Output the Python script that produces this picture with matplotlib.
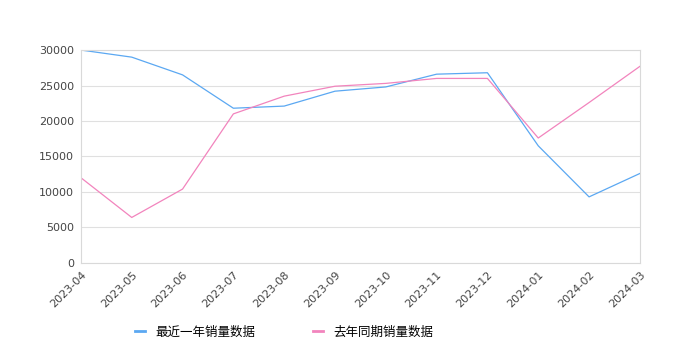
import matplotlib
matplotlib.use('Agg')
import matplotlib.pyplot as plt
from matplotlib.lines import Line2D

plt.rcParams['font.family'] = ['Noto Sans CJK SC', 'DejaVu Sans']

months = ['2023-04', '2023-05', '2023-06', '2023-07', '2023-08', '2023-09',
          '2023-10', '2023-11', '2023-12', '2024-01', '2024-02', '2024-03']
recent = [30000, 29000, 26500, 21800, 22100, 24200, 24800, 26600, 26800, 16500, 9300, 12600]
last_year = [12000, 6400, 10400, 21000, 23500, 24900, 25300, 26000, 26000, 17600, 22600, 27700]
yticks = [0, 5000, 10000, 15000, 20000, 25000, 30000]

blue = '#5ba8f2'
pink = '#f284bd'

fig = plt.figure(figsize=(6.8, 3.5), dpi=100)
ax = fig.add_axes([0.119, 0.249, 0.822, 0.608])

x = range(len(months))
ax.plot(x, recent, color=blue, linewidth=0.9)
ax.plot(x, last_year, color=pink, linewidth=0.9)

ax.set_xlim(0, len(months) - 1)
ax.set_ylim(0, 30000)
ax.set_yticks(yticks)
ax.set_yticklabels([str(v) for v in yticks], fontsize=8, color='#444444', family='DejaVu Sans')
ax.set_xticks(list(x))
ax.set_xticklabels(months, rotation=45, ha='right', rotation_mode='anchor',
                   fontsize=8, color='#444444', family='DejaVu Sans')
ax.grid(axis='y', color='#e0e0e0', linewidth=0.8)
ax.tick_params(length=0, pad=5)
for s in ax.spines.values():
    s.set_color('#d9d9d9')
    s.set_linewidth(0.8)

handles = [Line2D([], [], color=blue, linewidth=2),
           Line2D([], [], color=pink, linewidth=2)]
fig.legend(handles, ['最近一年销量数据', '去年同期销量数据'],
           loc='lower center', bbox_to_anchor=(0.418, 0.0), ncol=2, frameon=False,
           fontsize=9, handlelength=0.8, handletextpad=0.8, columnspacing=4.6)

fig.savefig('out.png', dpi=100)
